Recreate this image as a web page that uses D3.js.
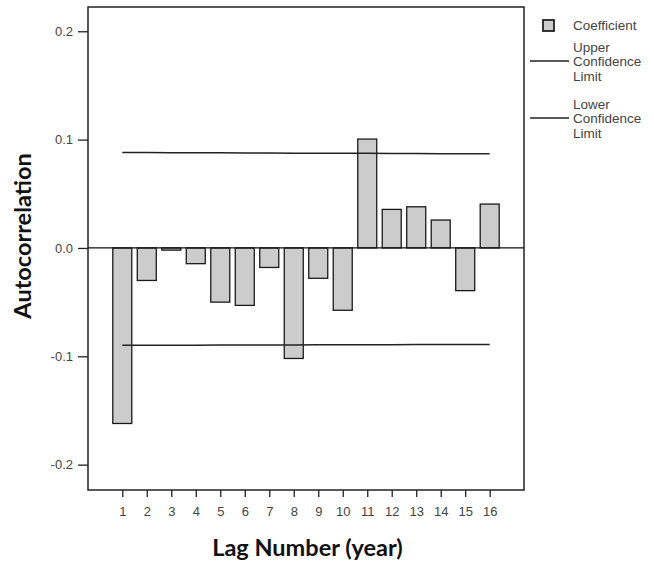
<!DOCTYPE html>
<html><head><meta charset="utf-8">
<script src="https://cdn.jsdelivr.net/npm/d3@7"></script>
<style>body{margin:0;background:#fff}</style>
</head><body>
<svg id="chart" width="654" height="565"></svg>
<script>
const lags = [1,2,3,4,5,6,7,8,9,10,11,12,13,14,15,16];
const coefficient = [-0.162,-0.030,-0.002,-0.0145,-0.050,-0.053,-0.018,-0.102,-0.028,-0.0575,0.1005,0.0356,0.038,0.0258,-0.0394,0.0405];
const upperLimit = [0.0881,0.0880,0.0879,0.0878,0.0878,0.0877,0.0876,0.0875,0.0874,0.0873,0.0873,0.0872,0.0871,0.0870,0.0870,0.0869];
const lowerLimit = [-0.0898,-0.0898,-0.0897,-0.0897,-0.0896,-0.0896,-0.0895,-0.0895,-0.0894,-0.0894,-0.0893,-0.0893,-0.0892,-0.0892,-0.0891,-0.0891];
const yTicks = [0.2,0.1,0.0,-0.1,-0.2];
const yTickLabels = ["0.2","0.1","0.0","-0.1","-0.2"];
const legendItems = [["Coefficient"],["Upper","Confidence","Limit"],["Lower","Confidence","Limit"]];

const svg = d3.select("#chart");
const L = 88, R = 524, T = 7, B = 490;
const x = d3.scalePoint().domain(lags).range([L, R]).padding(1.4);
const y = d3.scaleLinear().domain([-0.2234, 0.2224]).range([B, T]);
const barW = 19;

// frame
svg.append("rect").attr("x", L).attr("y", T).attr("width", R-L).attr("height", B-T)
  .attr("fill","none").attr("stroke","#222").attr("stroke-width",1.5);

// bars
svg.append("g").selectAll("rect").data(lags).join("rect")
  .attr("x", d => x(d) - barW/2)
  .attr("y", (d,i) => Math.min(y(coefficient[i]), y(0)))
  .attr("width", barW)
  .attr("height", (d,i) => Math.abs(y(coefficient[i]) - y(0)))
  .attr("fill","#cccccc").attr("stroke","#1a1a1a").attr("stroke-width",1.3);

// zero line
svg.append("line").attr("x1",L).attr("x2",R).attr("y1",y(0)).attr("y2",y(0))
  .attr("stroke","#111").attr("stroke-width",1.3);

// confidence lines
const line = d3.line().x((d,i)=>x(lags[i])).y(d=>y(d));
svg.append("path").attr("d", line(upperLimit)).attr("fill","none").attr("stroke","#222").attr("stroke-width",1.5);
svg.append("path").attr("d", line(lowerLimit)).attr("fill","none").attr("stroke","#222").attr("stroke-width",1.5);

// y axis
const yAxis = d3.axisLeft(y).tickValues(yTicks).tickFormat((d,i) => yTickLabels[i]).tickSize(10).tickPadding(5);
const gy = svg.append("g").attr("transform",`translate(${L},0)`).call(yAxis);
gy.select(".domain").remove();
gy.selectAll("line").attr("stroke","#222").attr("stroke-width",1.3);
gy.selectAll("text").attr("font-family","Arial, 'Liberation Sans', sans-serif").attr("font-size",13).attr("fill","#444");

// x axis
const xAxis = d3.axisBottom(x).tickSize(7).tickPadding(10);
const gx = svg.append("g").attr("transform",`translate(0,${B})`).call(xAxis);
gx.select(".domain").remove();
gx.selectAll("line").attr("stroke","#222").attr("stroke-width",1.3);
gx.selectAll("text").attr("font-family","Arial, 'Liberation Sans', sans-serif").attr("font-size",13).attr("fill","#444");

// axis titles
svg.append("text").attr("x", 307.5).attr("y", 556).attr("text-anchor","middle")
  .attr("font-family","Lato, 'Open Sans', sans-serif").attr("font-weight","bold").attr("font-size",23.5)
  .attr("fill","#111").text("Lag Number (year)");
svg.append("text").attr("transform","translate(31,236) rotate(-90)").attr("text-anchor","middle")
  .attr("font-family","Lato, 'Open Sans', sans-serif").attr("font-weight","bold").attr("font-size",23.5)
  .attr("fill","#111").text("Autocorrelation");

// legend
const lg = svg.append("g").attr("font-family","Arial, 'Liberation Sans', sans-serif").attr("font-size",13.5).attr("fill","#444");
lg.append("rect").attr("x",543).attr("y",20).attr("width",11).attr("height",11)
  .attr("fill","#cccccc").attr("stroke","#222").attr("stroke-width",1.8);
lg.append("text").attr("x",573).attr("y",30).text(legendItems[0][0]);
[[47,61],[104,118]].forEach(([ty, ly], k) => {
  lg.append("line").attr("x1",530).attr("x2",569).attr("y1",ly).attr("y2",ly).attr("stroke","#222").attr("stroke-width",1.3);
  legendItems[k+1].forEach((t,j) => {
    lg.append("text").attr("x",573).attr("y",ty + 4.5 + j*14.5).text(t);
  });
});
</script>
</body></html>
